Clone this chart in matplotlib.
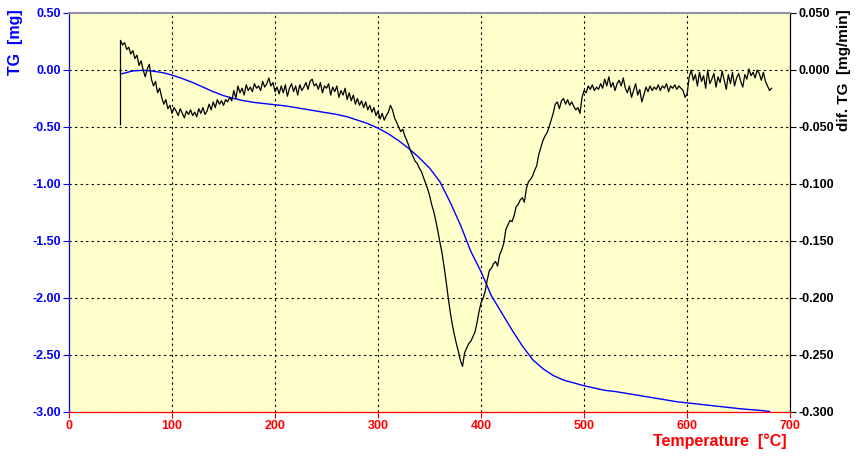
import matplotlib.pyplot as plt
import numpy as np

plt.rcParams['font.family'] = ['Liberation Sans', 'DejaVu Sans']

# TG curve (left axis, mg)
tg_temp = [50, 55, 60, 65, 70, 75, 80, 85, 90, 95, 100, 110, 120, 130, 140,
           150, 160, 170, 180, 190, 200, 210, 220, 230, 240, 250, 260, 270,
           280, 290, 300, 310, 320, 330, 340, 350, 360, 370, 380, 390, 400,
           410, 420, 430, 440, 450, 460, 470, 480, 490, 500, 510, 520, 530,
           540, 550, 560, 570, 580, 590, 600, 610, 620, 630, 640, 650, 660,
           670, 680]
tg_mass = [-0.035, -0.025, -0.012, -0.006, -0.004, -0.004, -0.008, -0.015,
           -0.022, -0.032, -0.045, -0.075, -0.11, -0.15, -0.19, -0.225,
           -0.25, -0.27, -0.285, -0.295, -0.305, -0.315, -0.33, -0.345,
           -0.36, -0.375, -0.39, -0.41, -0.44, -0.47, -0.51, -0.56, -0.62,
           -0.69, -0.77, -0.86, -0.98, -1.16, -1.36, -1.59, -1.77, -1.98,
           -2.13, -2.28, -2.42, -2.54, -2.62, -2.68, -2.72, -2.745, -2.77,
           -2.79, -2.81, -2.82, -2.835, -2.85, -2.865, -2.88, -2.895, -2.91,
           -2.92, -2.93, -2.94, -2.95, -2.96, -2.97, -2.978, -2.985, -2.995]

# dif. TG curve (right axis), values in 1e-3 mg/min
# two points at 50 C, then every 2 C from 52 to 682
dtg_start = [-48, 26]
dtg_rows = [
    22, 24, 18, 20, 14, 17, 10, 13, 4, 8,                    # 52-70
    0, -6, 1, 5, -8, -14, -10, -20, -16, -24,                # 72-90
    -30, -26, -34, -31, -38, -33, -36, -40, -34, -38,        # 92-110
    -42, -36, -39, -35, -40, -37, -41, -34, -38, -33,        # 112-130
    -39, -36, -30, -35, -28, -33, -26, -30, -27, -31,        # 132-150
    -26, -28, -24, -27, -18, -25, -14, -20, -16, -22,        # 152-170
    -13, -18, -15, -19, -12, -16, -14, -18, -10, -15,        # 172-190
    -12, -7, -14, -11, -19, -15, -21, -14, -20, -13,         # 192-210
    -23, -16, -12, -19, -14, -22, -13, -18, -15, -11,        # 212-230
    -17, -10, -8, -14, -12, -17, -11, -20, -14, -16,         # 232-250
    -12, -22, -15, -19, -14, -24, -18, -22, -16, -26,        # 252-270
    -20, -27, -22, -30, -25, -31, -27, -33, -28, -35,        # 272-290
    -31, -37, -33, -40, -36, -43, -38, -44, -40, -37,        # 292-310
    -31, -35, -42, -46, -50, -54, -52, -58, -62, -67,        # 312-330
    -72, -76, -80, -82, -86, -89, -94, -99, -104, -110,      # 332-350
    -118, -124, -132, -141, -151, -160, -172, -185, -199, -212,  # 352-370
    -223, -232, -240, -247, -255, -260, -248, -244, -240, -238,  # 372-390
    -234, -230, -222, -212, -204, -200, -194, -184, -176, -174,  # 392-410
    -170, -168, -172, -162, -158, -152, -140, -136, -132, -133,  # 412-430
    -128, -120, -118, -114, -112, -116, -104, -98, -96, -93,     # 432-450
    -88, -84, -74, -68, -62, -58, -55, -50, -44, -38,        # 452-470
    -30, -28, -34, -27, -25, -30, -26, -31, -28, -32,        # 472-490
    -35, -33, -38, -24, -18, -20, -14, -17, -13, -18,        # 492-510
    -15, -17, -12, -16, -8, -14, -6, -15, -11, -18,          # 512-530
    -12, -9, -14, -7, -16, -20, -14, -24, -18, -12,          # 532-550
    -22, -17, -28, -22, -15, -19, -14, -18, -15, -17,        # 552-570
    -13, -18, -14, -16, -12, -19, -14, -16, -13, -17,        # 572-590
    -14, -16, -18, -24, -21, -6, 0, -9, -4, -14,             # 592-610
    -2, -10, -5, -16, 0, -12, -8, -3, -15, -6,               # 612-630
    -11, -1, -9, -17, -4, -12, -2, -14, -7, -3,              # 632-650
    -10, -15, -4, -8, 1, -5, -2, -7, 0, -3,                  # 652-670
    -9, -2, -10, -14, -18, -16,                              # 672-682
]
dtg_temp = [50, 50] + list(range(52, 684, 2))
dtg_vals = np.array(dtg_start + dtg_rows) / 1000.0

x_ticks = [0, 100, 200, 300, 400, 500, 600, 700]
tg_ticks = [0.5, 0.0, -0.5, -1.0, -1.5, -2.0, -2.5, -3.0]
dtg_ticks = [0.05, 0.0, -0.05, -0.1, -0.15, -0.2, -0.25, -0.3]

fig = plt.figure(figsize=(8.57, 4.59), dpi=100)
ax = fig.add_axes([0.0805, 0.1024, 0.8415, 0.8693])
ax.set_facecolor("#ffffcc")
ax2 = ax.twinx()

ax.plot(tg_temp, tg_mass, color="blue", lw=1.0)
ax2.plot(dtg_temp, dtg_vals, color="black", lw=0.9)

ax.set_xlim(0, 700)
ax.set_ylim(-3.0, 0.5)
ax2.set_ylim(-0.3, 0.05)

ax.set_xticks(x_ticks)
ax.set_xticklabels([str(t) for t in x_ticks], color="red",
                   fontweight="bold", fontsize=9)
ax.set_yticks(tg_ticks)
ax.set_yticklabels(["%.2f" % t for t in tg_ticks], color="blue",
                   fontweight="bold", fontsize=9)
ax2.set_yticks(dtg_ticks)
ax2.set_yticklabels(["%.3f" % t for t in dtg_ticks], color="black",
                    fontweight="bold", fontsize=9)

ax.grid(True, color="black", linestyle=(0, (2, 3)), lw=0.8)
ax.set_axisbelow(True)

ax.tick_params(axis="x", direction="out", length=4, colors="red", pad=2)
ax.tick_params(axis="y", direction="out", length=4, colors="blue", pad=2)
ax2.tick_params(axis="y", direction="out", length=4, colors="black", pad=2)

for a in (ax, ax2):
    a.spines["left"].set_color("blue")
    a.spines["bottom"].set_color("red")
    a.spines["right"].set_color("black")
    a.spines["top"].set_color("#9090a8")
    a.spines["top"].set_linewidth(1.3)

fig.text(0.018, 0.98, "TG  [mg]", color="blue", fontweight="bold",
         fontsize=11.5, rotation=90, ha="center", va="top")
fig.text(0.985, 0.98, "dif. TG  [mg/min]", color="black", fontweight="bold",
         fontsize=11, rotation=90, ha="center", va="top")
fig.text(0.918, 0.022, "Temperature  [\u00b0C]", color="red", fontweight="bold",
         fontsize=11.5, ha="right", va="bottom")

fig.savefig("out.png", dpi=100)
